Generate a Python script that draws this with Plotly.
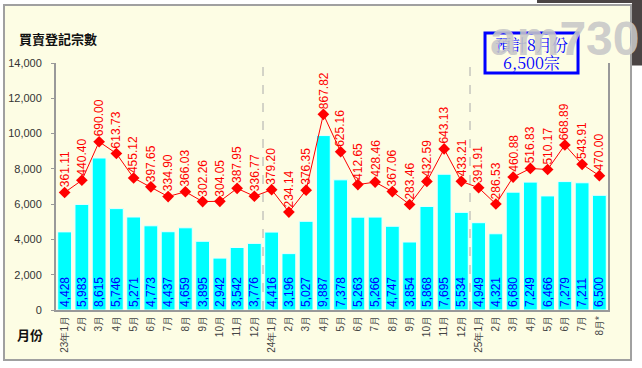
import plotly.graph_objects as go

months = ["23年1月", "2月", "3月", "4月", "5月", "6月", "7月", "8月", "9月", "10月", "11月", "12月",
          "24年1月", "2月", "3月", "4月", "5月", "6月", "7月", "8月", "9月", "10月", "11月", "12月",
          "25年1月", "2月", "3月", "4月", "5月", "6月", "7月", "8月*"]
counts = [4428, 5983, 8615, 5746, 5271, 4773, 4437, 4659, 3895, 2942, 3542, 3776,
          4416, 3196, 5027, 9887, 7378, 5263, 5266, 4747, 3854, 5868, 7695, 5534,
          4949, 4321, 6680, 7249, 6466, 7279, 7211, 6500]
amounts = [361.11, 440.40, 690.00, 613.73, 455.12, 397.65, 334.90, 366.03, 302.26, 304.05, 387.95, 336.77,
           379.20, 234.14, 376.35, 867.82, 625.16, 412.65, 428.46, 367.06, 283.46, 432.59, 643.13, 433.21,
           391.91, 286.53, 460.88, 516.83, 510.17, 668.89, 543.91, 470.00]
year_starts = [12, 24]
y_ticks = [0, 2000, 4000, 6000, 8000, 10000, 12000, 14000]
box_lines = ["預計8月份", "6,500宗"]

BG = "#FDFDE4"
xs = list(range(len(months)))

fig = go.Figure()
fig.add_trace(go.Bar(
    x=xs, y=counts,
    marker=dict(color="#00FFFF", line=dict(color="#E8FFFF", width=1)),
    text=[f"{v:,}" for v in counts],
    textposition="inside", insidetextanchor="start", textangle=-90,
    constraintext="none",
    textfont=dict(color="#0000FF", size=12, family="Liberation Sans, Arial"),
    hoverinfo="skip",
))
fig.add_trace(go.Scatter(
    x=xs, y=amounts, yaxis="y2", mode="lines+markers",
    line=dict(color="#FF0000", width=1),
    marker=dict(symbol="diamond", size=9, color="#FF0000"),
    hoverinfo="skip",
))

annotations = []
for i, v in enumerate(amounts):
    annotations.append(dict(
        x=i, y=v, xref="x", yref="y2", text=f"{v:.2f}", textangle=-90,
        showarrow=False, xanchor="center", yanchor="bottom", yshift=3,
        font=dict(color="#FF0000", size=12, family="Liberation Sans, Arial"),
    ))
annotations += [
    dict(x=-0.0707, y=1.10, xref="paper", yref="paper", text="<b>買賣登記宗數</b>", showarrow=False,
         xanchor="left", yanchor="middle",
         font=dict(size=13, color="#111", family="Noto Sans CJK TC")),
    dict(x=-0.0743, y=-0.101, xref="paper", yref="paper", text="<b>月份</b>", showarrow=False,
         xanchor="left", yanchor="middle",
         font=dict(size=13, color="#111", family="Noto Sans CJK TC")),
    dict(x=0.8614, y=1.0729, xref="paper", yref="paper", text=box_lines[0], showarrow=False,
         xanchor="center", yanchor="middle",
         font=dict(size=16, color="#0000FF", family="Noto Serif CJK TC, Noto Sans CJK TC")),
    dict(x=0.8614, y=1.004, xref="paper", yref="paper", text=box_lines[1], showarrow=False,
         xanchor="center", yanchor="middle",
         font=dict(size=16, color="#0000FF", family="Noto Serif CJK TC, Noto Sans CJK TC")),
    dict(x=0.922, y=1.101, xref="paper", yref="paper", text="<b>am730</b>", showarrow=False,
         xanchor="center", yanchor="middle",
         font=dict(size=48, color="rgba(200,200,200,0.9)", family="Liberation Sans Narrow, Liberation Sans")),
]

shapes = [
    dict(type="rect", xref="paper", yref="paper", x0=-0.0942, x1=1.0417, y0=-0.2024, y1=1.2348,
         line=dict(color="#A0A0A0", width=2), fillcolor=BG, layer="below"),
    dict(type="rect", xref="paper", yref="paper", x0=0.7772, x1=0.9457, y0=0.9595, y1=1.1215,
         line=dict(color="#0000FF", width=3), fillcolor=BG, layer="above"),
    dict(type="rect", xref="paper", yref="paper", x0=0.8714, x1=1.1, y0=1.243, y1=1.26,
         line=dict(width=0), fillcolor="#4A4444", layer="above"),
    dict(type="rect", xref="paper", yref="paper", x0=1.0435, x1=1.1, y0=0.99, y1=1.26,
         line=dict(width=0), fillcolor="#4A4444", layer="above"),
]
for s in year_starts:
    shapes.append(dict(type="line", xref="x", yref="paper", x0=s - 0.5, x1=s - 0.5, y0=0, y1=1,
                       line=dict(color="#AAAAAA", width=1, dash="dash"), layer="below"))

fig.update_layout(
    width=642, height=368,
    margin=dict(l=56, r=34, t=63, b=58, autoexpand=False),
    paper_bgcolor="white", plot_bgcolor=BG,
    showlegend=False, bargap=0.2,
    xaxis=dict(range=[-0.5, len(months) - 0.5], tickvals=xs, ticktext=months, tickangle=-90,
               showgrid=False, zeroline=False, showline=True, linecolor="#999999", linewidth=2,
               ticks="", automargin=False,
               tickfont=dict(size=10, color="#444", family="Liberation Sans, Arial")),
    yaxis=dict(range=[0, 14000], tickvals=y_ticks, tickformat=",", showgrid=False, zeroline=False,
               showline=True, mirror=True, linecolor="#999999", linewidth=2, ticks="outside", ticklen=3,
               tickcolor="#999999", automargin=False, ticklabelstandoff=7,
               tickfont=dict(size=11, color="#333", family="Liberation Sans, Arial")),
    yaxis2=dict(range=[-400, 1200], overlaying="y", side="right", visible=False),
    annotations=annotations, shapes=shapes,
)
fig.write_html("out.html", config={"displayModeBar": False},
               post_script="document.body.style.margin='0';document.body.style.overflow='hidden';")
